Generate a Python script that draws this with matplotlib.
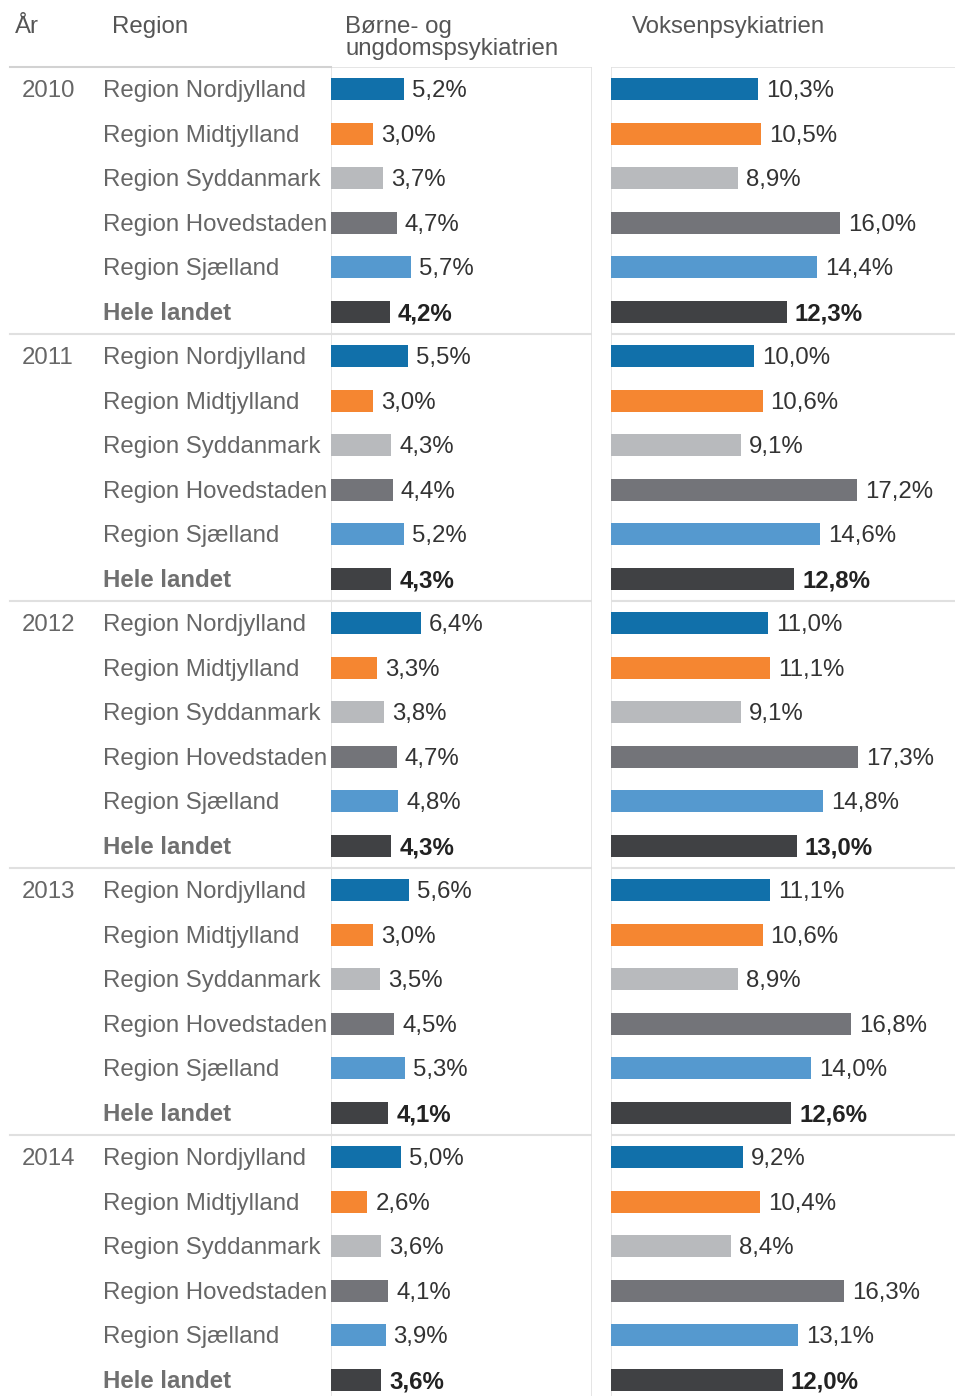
import matplotlib
matplotlib.use("Agg")
import matplotlib.pyplot as plt
import matplotlib.transforms as mtransforms
import numpy as np

plt.rcParams["font.family"] = ["Liberation Sans", "DejaVu Sans"]

W, H = 955, 1396

YEARS = ["2010", "2011", "2012", "2013", "2014"]
REGIONS = [
    "Region Nordjylland",
    "Region Midtjylland",
    "Region Syddanmark",
    "Region Hovedstaden",
    "Region Sjælland",
    "Hele landet",
]
COLORS = ["#1170aa", "#f58631", "#b8babd", "#737479", "#5599cf", "#404144"]

# Børne- og ungdomspsykiatrien, per year, order as REGIONS
BOERNE = [
    [5.2, 3.0, 3.7, 4.7, 5.7, 4.2],
    [5.5, 3.0, 4.3, 4.4, 5.2, 4.3],
    [6.4, 3.3, 3.8, 4.7, 4.8, 4.3],
    [5.6, 3.0, 3.5, 4.5, 5.3, 4.1],
    [5.0, 2.6, 3.6, 4.1, 3.9, 3.6],
]
# Voksenpsykiatrien
VOKSEN = [
    [10.3, 10.5, 8.9, 16.0, 14.4, 12.3],
    [10.0, 10.6, 9.1, 17.2, 14.6, 12.8],
    [11.0, 11.1, 9.1, 17.3, 14.8, 13.0],
    [11.1, 10.6, 8.9, 16.8, 14.0, 12.6],
    [9.2, 10.4, 8.4, 16.3, 13.1, 12.0],
]

GRID = "#e0e0e0"
LABEL_GREY = "#666666"
VALUE_DARK = "#333333"
FS = 17.3
DY = 0.04  # nudge text down a touch to sit on the bar centre


def fx(px):
    return px / W


def fy(py):
    return 1 - py / H


def pane(fig, x0, x1, xmax):
    top, bottom = 67, 67 + 30 * 44.5
    ax = fig.add_axes([fx(x0), fy(bottom), fx(x1 - x0), (bottom - top) / H])
    ax.set_xlim(0, xmax)
    ax.set_ylim(29.5, -0.5)
    ax.set_xticks([])
    ax.set_yticks([])
    for s in ax.spines.values():
        s.set_visible(False)
    ax.axvline(0, color=GRID, lw=1.2, zorder=0)
    return ax


fig = plt.figure(figsize=(W / 100, H / 100), dpi=100)

ax_b = pane(fig, 331, 592, 261 / 14.0)
ax_v = pane(fig, 611, 955, 344 / 14.3)
ax_b.axvline(ax_b.get_xlim()[1], color=GRID, lw=1.2, zorder=0)

n = len(REGIONS)
for ax, table in [(ax_b, BOERNE), (ax_v, VOKSEN)]:
    vals = np.array(table).ravel()
    rows = np.arange(len(vals))
    cols = COLORS * len(YEARS)
    ax.barh(rows, vals, height=0.5, color=cols, zorder=2)
    pad = ax.get_xlim()[1] / (ax.bbox.width) * 8
    for r, v in zip(rows, vals):
        bold = r % n == n - 1
        ax.text(v + pad, r + DY, f"{v:.1f}%".replace(".", ","), va="center", ha="left",
                fontsize=FS, color="#222222" if bold else VALUE_DARK,
                fontweight="bold" if bold else "normal")
    for g in range(1, len(YEARS)):
        ax.axhline(g * n - 0.5, color=GRID, lw=1.5, zorder=1)
    ax.axhline(-0.5, color=GRID, lw=1.2, zorder=1)

# left label columns, rows tied to the bar axes
tr = mtransforms.blended_transform_factory(fig.transFigure, ax_b.transData)
for g, year in enumerate(YEARS):
    fig.text(fx(22), g * n + DY, year, transform=tr, fontsize=FS, color=LABEL_GREY,
             va="center", ha="left")
    for i, reg in enumerate(REGIONS):
        bold = i == n - 1
        fig.text(fx(103), g * n + i + DY, reg, transform=tr, fontsize=FS,
                 color="#707070" if bold else LABEL_GREY, va="center", ha="left",
                 fontweight="bold" if bold else "normal")
    if g > 0:
        fig.add_artist(plt.Line2D([fx(10), fx(331)], [g * n - 0.5] * 2, transform=tr,
                                  color=GRID, lw=1.5))
fig.add_artist(plt.Line2D([fx(10), fx(331)], [-0.5, -0.5], transform=tr,
                          color="#d2d2d2", lw=1.5))

# headers
HEAD = "#555555"
fig.text(fx(15), fy(27), "År", fontsize=FS, color=HEAD, va="center", ha="left")
fig.text(fx(112), fy(27), "Region", fontsize=FS, color=HEAD, va="center", ha="left")
fig.text(fx(345), fy(27), "Børne- og", fontsize=FS, color=HEAD, va="center", ha="left")
fig.text(fx(345), fy(49), "ungdomspsykiatrien", fontsize=FS, color=HEAD, va="center", ha="left")
fig.text(fx(632), fy(27), "Voksenpsykiatrien", fontsize=FS, color=HEAD, va="center", ha="left")

fig.savefig("out.png", dpi=100)
